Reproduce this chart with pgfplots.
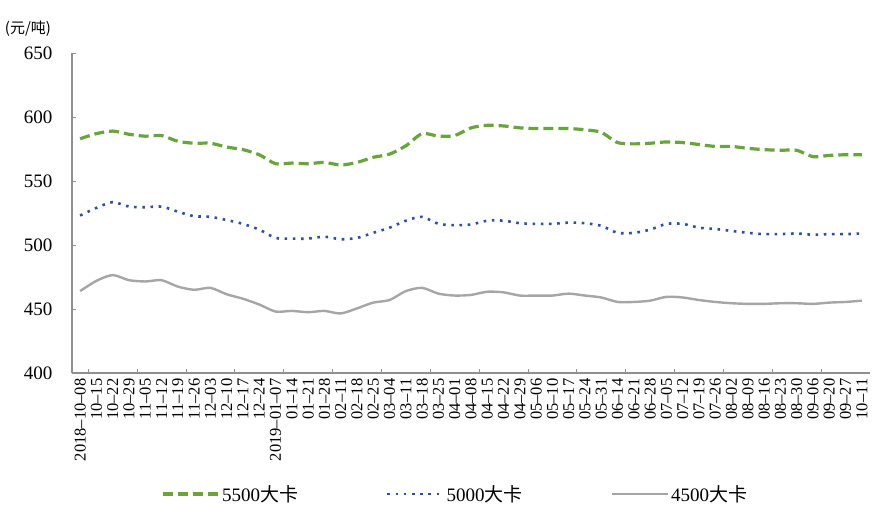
\documentclass[border=0pt]{standalone}
\usepackage{fontspec}
\setmainfont{Liberation Serif}
\newfontfamily\cjk{Noto Sans CJK SC}
\usepackage{pgfplots}
\pgfplotsset{compat=1.18}
\usepackage{pgfplotstable}

\definecolor{coalgreen}{HTML}{68A53A}
\definecolor{coalblue}{HTML}{2E4FA8}
\definecolor{coalgray}{HTML}{A6A6A6}
\definecolor{axisgray}{HTML}{8F8F8F}

% Weekly thermal coal prices (yuan/tonne) by calorific value
\pgfplotstableread{
idx q5500 q5000 q4500
0   583   523   464
1   587   529   472
2   589   533.5 476.5
3   586.5 530   472.5
4   585   529.5 471.5
5   585.5 530   472.5
6   581   526   467.5
7   579.5 522.5 465
8   579.5 522   466.5
9   576.5 519.5 461.5
10  574.5 516.5 458
11  570.5 512   453.5
12  563.5 505.5 448
13  564   505   448.5
14  563.5 505   447.5
15  564.5 506.5 448.5
16  562.5 504.5 446.5
17  564.5 505.5 450.5
18  568.5 509.5 455
19  571   513.5 457
20  577.5 519   464
21  587   522   466.5
22  585   516.5 462
23  585.5 515.5 460.5
24  591.5 516   461
25  593.5 519   463.5
26  593   519   463
27  591.5 517   460.5
28  591   516.5 460.5
29  591   516.5 460.5
30  591   517.5 462
31  590   517   460.5
32  588   515   459
33  580   509.5 455.5
34  579   509.5 455.5
35  579.5 512   456.5
36  580.5 516.5 459.5
37  580   516.5 459
38  578.5 513.5 457
39  577   512.5 455.5
40  577   511   454.5
41  575.5 509.5 454
42  574.5 508.5 454
43  574   508.5 454.5
44  574   509   454.5
45  569   508   454
46  570   508.5 455
47  570.5 508.5 455.5
48  570.5 509   456.5
}\prices

\begin{document}
\begin{tikzpicture}
\useasboundingbox (0pt,0pt) rectangle (873pt,505pt);
\begin{axis}[
  at={(72pt,132pt)}, anchor=south west,
  width=798pt, height=320pt, scale only axis,
  xmin=-0.5, xmax=48.5, ymin=400, ymax=650,
  axis x line*=bottom, axis y line*=left,
  axis line style={-, draw=axisgray, line width=1.1pt},
  tick align=inside,
  major tick length=4pt,
  ytick style={draw=axisgray, line width=0.9pt},
  ytick={400,450,...,650},
  yticklabel style={font=\fontsize{19}{19}\selectfont, xshift=-16pt},
  /pgf/number format/assume math mode=true,
  xtick={0,...,48},
  xticklabels={2018--10--08,10--15,10--22,10--29,11--05,11--12,11--19,11--26,12--03,12--10,12--17,12--24,2019--01--07,01--14,01--21,01--28,02--11,02--18,02--25,03--04,03--11,03--18,03--25,04--01,04--08,04--15,04--22,04--29,05--06,05--10,05--17,05--24,05--31,06--14,06--21,06--28,07--05,07--12,07--19,07--26,08--02,08--09,08--16,08--23,08--30,09--06,09--20,09--27,10--11},
  xtick style={draw=none},
  extra x ticks={0.5,3.5,...,45.5},
  extra x tick labels={},
  extra x tick style={xtick style={draw=axisgray, line width=0.9pt}},
  xticklabel style={yshift=-5pt, rotate=90, anchor=east, font=\fontsize{16.5}{17}\selectfont, inner sep=0.5pt},
  legend style={at={(0.48,-0.378)}, anchor=center, draw=none, fill=none,
    font=\fontsize{19}{19}\selectfont, legend columns=3,
    /tikz/every even column/.append style={column sep=86pt}},
  legend image code/.code={\draw[#1] (0pt,0pt) -- (56pt,0pt);},
]
\addplot[coalgreen, line width=3.2pt, dash pattern=on 10pt off 5pt, smooth, tension=0.45]
  table[x=idx, y=q5500] {\prices};
\addlegendentry{5500{\cjk 大卡}}
\addplot[coalblue, line width=2.6pt, dash pattern=on 2.6pt off 5.6pt, smooth, tension=0.45]
  table[x=idx, y=q5000] {\prices};
\addlegendentry{5000{\cjk 大卡}}
\addplot[coalgray, line width=2.4pt, smooth, tension=0.45]
  table[x=idx, y=q4500] {\prices};
\addlegendentry{4500{\cjk 大卡}}
\end{axis}
\node[font=\cjk\fontsize{15}{15}\selectfont] at (28pt,476pt) {(元/吨)};
\end{tikzpicture}
\end{document}
